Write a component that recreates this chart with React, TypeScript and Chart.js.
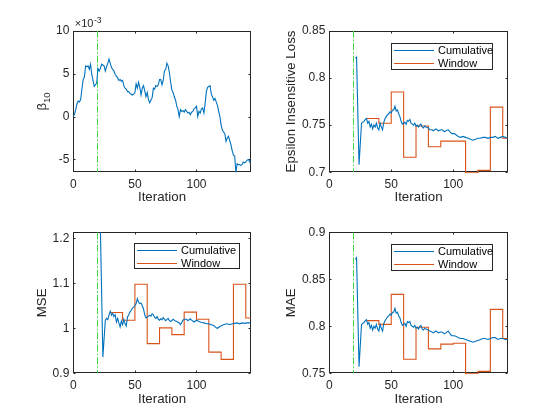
import React, { useEffect, useRef } from 'react';
import { Chart, registerables } from 'chart.js';

Chart.register(...registerables);

const FONT = '"Liberation Sans", Arial, Helvetica, sans-serif';
const INK = '#262626';
const BLUE = '#0072BD';
const ORANGE = '#D95319';
const XLINE_COLOR = '#40d840';

// ---------- shared x axis ----------
const X_MIN = 0;
const X_MAX = 144;
const xTickValues = [0, 50, 100];
const xTickLabels = ['0', '50', '100'];
const warmupEnd = 19.5;

// ---------- beta_10 (units of 1e-3) ----------
const betaIter = [
  0, 1, 2, 3, 4, 5, 6, 7, 8, 9, 10, 11, 12, 13, 14, 15, 16, 17, 18, 19,
  20, 21, 22, 23, 24, 25, 26, 27, 28, 29, 30, 31, 32, 33, 34, 35, 36, 37, 38, 39,
  40, 41, 42, 43, 44, 45, 46, 47, 48, 49, 50, 51, 52, 53, 54, 55, 56, 57, 58, 59,
  60, 61, 62, 63, 64, 65, 66, 67, 68, 69, 70, 71, 72, 73, 74, 75, 76, 77, 78, 79,
  80, 81, 82, 83, 84, 85, 86, 87, 88, 89, 90, 91, 92, 93, 94, 95, 96, 97, 98, 99,
  100, 101, 102, 103, 104, 105, 106, 107, 108, 109, 110, 111, 112, 113, 114, 115, 116, 117, 118, 119,
  120, 121, 122, 123, 124, 125, 126, 127, 128, 129, 130, 131, 132, 133, 134, 135, 136, 137, 138, 139,
  140, 141, 142, 143, 144,
];
const beta10Milli = [
  0.0, 0.3, 0.8, 1.5, 1.8, 1.7, 2.0, 3.2, 4.3, 4.6, 5.9, 5.8, 5.9, 5.5, 6.1, 4.9, 4.2, 3.5, 3.7, 3.9,
  5.6, 5.3, 5.6, 6.1, 6.0, 5.9, 5.3, 5.8, 6.2, 6.7, 6.2, 5.7, 5.5, 5.3, 4.9, 4.7, 4.5, 4.2, 4.3, 4.1,
  4.2, 3.6, 3.3, 3.2, 2.9, 2.9, 2.7, 2.6, 2.5, 2.6, 2.8, 3.8, 3.3, 4.0, 3.4, 2.5, 3.3, 3.6, 3.0, 2.3,
  2.8, 2.0, 1.6, 1.9, 2.2, 3.3, 3.2, 3.6, 3.5, 3.7, 4.3, 4.3, 3.7, 4.2, 5.3, 5.5, 6.2, 5.9, 5.1, 4.0,
  3.1, 2.8, 2.3, 1.9, 1.2, 0.8, 0.0, 0.8, 0.6, 0.7, 0.5, 0.8, 0.6, 0.4, 0.5, 0.2, 0.5, 0.6, 0.9, 1.0,
  1.2, 0.0, 0.6, 0.4, 0.9, 1.0, 0.4, 1.5, 2.9, 3.4, 3.5, 3.6, 2.6, 2.3, 1.9, 2.1, 1.7, 1.3, 0.6, 0.0,
  -1.0, -1.6, -1.8, -2.0, -2.9, -2.5, -2.3, -2.8, -3.3, -4.0, -4.5, -4.6, -6.5, -5.5, -5.6, -5.6, -5.7, -5.6, -5.3, -5.4,
  -5.3, -5.1, -5.0, -5.2, -5.5,
];
const betaTickValues = [-5, 0, 5, 10];
const betaTickLabels = ['-5', '0', '5', '10'];
const BETA_MIN = -6.5;
const BETA_MAX = 10;

// ---------- Epsilon insensitive loss ----------
const eilCumIter = [
  21, 22, 24, 26, 28, 29, 30, 31, 32, 33, 34, 35, 36, 37, 38, 39, 40, 41, 42, 43,
  44, 45, 46, 47, 48, 49, 50, 51, 52, 53, 54, 55, 56, 57, 58, 59, 60, 61, 62, 63,
  64, 65, 66, 67, 68, 69, 70, 71, 72, 73, 74, 75, 76, 77, 78, 80, 81, 83, 84, 86,
  88, 90, 91, 93, 94, 96, 98, 99, 101, 103, 104, 106, 108, 110, 112, 114, 116, 118, 120, 122,
  124, 126, 128, 130, 132, 134, 136, 138, 140, 142, 144,
];
const eilCum = [
  0.821, 0.822, 0.708, 0.752, 0.754, 0.756, 0.757, 0.752, 0.754, 0.748, 0.751, 0.746, 0.750, 0.748, 0.752, 0.747, 0.745, 0.752, 0.748, 0.745,
  0.753, 0.757, 0.759, 0.761, 0.762, 0.764, 0.763, 0.766, 0.766, 0.770, 0.765, 0.766, 0.762, 0.759, 0.754, 0.751, 0.752, 0.753, 0.751, 0.755,
  0.754, 0.756, 0.752, 0.751, 0.750, 0.752, 0.749, 0.750, 0.748, 0.750, 0.751, 0.748, 0.747, 0.749, 0.748, 0.747, 0.745, 0.745, 0.744, 0.746,
  0.744, 0.745, 0.745, 0.743, 0.744, 0.745, 0.742, 0.741, 0.741, 0.739, 0.738, 0.737, 0.738, 0.737, 0.736, 0.735, 0.734, 0.735, 0.736, 0.736,
  0.737, 0.737, 0.736, 0.737, 0.737, 0.738, 0.736, 0.737, 0.738, 0.737, 0.736,
];
const windowIter = [30, 40, 50, 60, 70, 80, 90, 100, 110, 120, 130, 140, 144];
const eilWindow = [0.757, 0.752, 0.785, 0.716, 0.749, 0.727, 0.733, 0.733, 0.6995, 0.702, 0.769, 0.736, 0.736];
const eilTickValues = [0.7, 0.75, 0.8, 0.85];
const eilTickLabels = ['0.7', '0.75', '0.8', '0.85'];

// ---------- MSE ----------
const mseCumIter = [
  21, 22, 24, 26, 27, 28, 29, 30, 31, 32, 33, 34, 35, 36, 37, 38, 39, 40, 41, 42,
  43, 44, 45, 46, 47, 48, 49, 50, 51, 52, 53, 54, 55, 56, 57, 58, 59, 60, 61, 62,
  63, 64, 65, 66, 67, 68, 69, 70, 71, 72, 73, 74, 75, 76, 77, 78, 79, 81, 83, 84,
  86, 87, 89, 90, 92, 93, 95, 96, 98, 100, 102, 104, 106, 108, 110, 112, 114, 116, 117, 119,
  121, 123, 125, 127, 129, 131, 133, 135, 137, 139, 141, 144,
];
const mseCum = [
  1.35, 1.22, 0.936, 1.018, 1.022, 1.019, 1.030, 1.038, 1.029, 1.033, 1.026, 1.030, 1.014, 1.022, 1.012, 1.003, 1.016, 1.008, 1.020, 1.010,
  1.005, 1.025, 1.030, 1.036, 1.040, 1.045, 1.047, 1.050, 1.055, 1.066, 1.058, 1.055, 1.056, 1.050, 1.043, 1.030, 1.023, 1.025, 1.027, 1.029,
  1.027, 1.032, 1.030, 1.024, 1.022, 1.026, 1.020, 1.018, 1.021, 1.019, 1.024, 1.020, 1.017, 1.020, 1.022, 1.017, 1.015, 1.020, 1.016, 1.015,
  1.012, 1.008, 1.018, 1.020, 1.020, 1.017, 1.021, 1.018, 1.014, 1.018, 1.015, 1.013, 1.012, 1.010, 1.010, 1.008, 1.006, 1.001, 1.000, 1.004,
  1.007, 1.009, 1.010, 1.008, 1.010, 1.011, 1.012, 1.010, 1.012, 1.011, 1.012, 1.012,
];
const mseWindow = [1.035, 1.018, 1.098, 0.966, 1.001, 0.986, 1.036, 1.020, 0.947, 0.931, 1.098, 1.023, 1.023];
const mseTickValues = [0.9, 1.0, 1.1, 1.2];
const mseTickLabels = ['0.9', '1', '1.1', '1.2'];

// ---------- MAE ----------
const maeCumIter = [
  21, 22, 24, 26, 28, 29, 30, 31, 32, 33, 34, 35, 36, 37, 38, 39, 40, 41, 42, 43,
  44, 45, 46, 47, 48, 49, 50, 51, 52, 53, 54, 55, 56, 57, 58, 59, 60, 61, 62, 63,
  64, 65, 66, 67, 68, 69, 70, 71, 72, 73, 74, 75, 76, 77, 78, 80, 81, 83, 84, 86,
  88, 90, 91, 93, 94, 96, 98, 99, 101, 103, 104, 106, 108, 110, 112, 114, 116, 118, 120, 122,
  124, 126, 128, 130, 132, 134, 136, 138, 140, 142, 144,
];
const maeCum = [
  0.871, 0.873, 0.757, 0.802, 0.804, 0.806, 0.807, 0.802, 0.804, 0.798, 0.801, 0.796, 0.800, 0.798, 0.802, 0.797, 0.795, 0.802, 0.798, 0.795,
  0.803, 0.806, 0.808, 0.810, 0.811, 0.813, 0.812, 0.815, 0.815, 0.819, 0.814, 0.815, 0.811, 0.809, 0.804, 0.801, 0.802, 0.803, 0.800, 0.805,
  0.804, 0.805, 0.801, 0.800, 0.799, 0.801, 0.798, 0.799, 0.797, 0.800, 0.801, 0.797, 0.796, 0.798, 0.797, 0.796, 0.795, 0.794, 0.793, 0.795,
  0.793, 0.794, 0.794, 0.792, 0.793, 0.795, 0.791, 0.790, 0.790, 0.789, 0.788, 0.787, 0.787, 0.786, 0.785, 0.784, 0.783, 0.784, 0.785, 0.786,
  0.787, 0.787, 0.786, 0.787, 0.788, 0.788, 0.786, 0.787, 0.787, 0.786, 0.786,
];
const maeWindow = [0.806, 0.802, 0.834, 0.765, 0.799, 0.776, 0.781, 0.782, 0.7496, 0.752, 0.818, 0.787, 0.787];
const maeTickValues = [0.75, 0.8, 0.85, 0.9];
const maeTickLabels = ['0.75', '0.8', '0.85', '0.9'];

const seriesNames = ['Cumulative', 'Window'];

// ---------- panel description ----------
type Area = { l: number; t: number; r: number; b: number };
type LegendBox = { rightInset: number; top: number; width: number; height: number };
type Panel = {
  area: Area;
  yMin: number;
  yMax: number;
  yTicks: number[];
  yTickLabels: string[];
  yTitle?: string;
  yTitlePad?: number;
  xTitlePad: number;
  datasets: any[];
  legend?: LegendBox;
  exponent?: boolean;
  betaLabel?: boolean;
};

const CW = 280;
const CH = 210;

function pts(xs: number[], ys: number[]) {
  return xs.map((x, i) => ({ x, y: ys[i] }));
}

function cumulativeDs(xs: number[], ys: number[]) {
  return {
    label: seriesNames[0],
    data: pts(xs, ys),
    borderColor: BLUE,
    borderWidth: 1.1,
    pointRadius: 0,
    tension: 0,
    clip: 0,
  };
}
function windowDs(xs: number[], ys: number[]) {
  return {
    label: seriesNames[1],
    data: pts(xs, ys),
    borderColor: ORANGE,
    borderWidth: 1.1,
    pointRadius: 0,
    stepped: true,
    clip: 1,
  };
}

function panelPlugin(p: Panel) {
  return {
    id: 'matlabAxes',
    beforeDatasetsDraw(chart: any) {
      const { ctx, chartArea: a, scales } = chart;
      const L = Math.round(a.left) + 0.5;
      const R = Math.round(a.right) - 0.5;
      const T = Math.round(a.top) + 0.5;
      const B = Math.round(a.bottom) - 0.5;
      ctx.save();
      // axes box (drawn beneath the data, like MATLAB's default layer)
      ctx.strokeStyle = INK;
      ctx.lineWidth = 1;
      ctx.setLineDash([]);
      ctx.strokeRect(L, T, R - L, B - T);
      const tl = 2;
      ctx.beginPath();
      for (const v of xTickValues) {
        const x = Math.round(scales.x.getPixelForValue(v)) + 0.5;
        ctx.moveTo(x, B);
        ctx.lineTo(x, B - tl);
        ctx.moveTo(x, T);
        ctx.lineTo(x, T + tl);
      }
      for (const v of p.yTicks) {
        const y = Math.round(scales.y.getPixelForValue(v)) + 0.5;
        ctx.moveTo(L, y);
        ctx.lineTo(L + tl, y);
        ctx.moveTo(R, y);
        ctx.lineTo(R - tl, y);
      }
      ctx.stroke();

      // warm-up marker line
      const xw = Math.round(scales.x.getPixelForValue(warmupEnd)) + 0.5;
      ctx.beginPath();
      ctx.rect(a.left, a.top, a.right - a.left, a.bottom - a.top);
      ctx.clip();
      ctx.strokeStyle = XLINE_COLOR;
      ctx.lineWidth = 1;
      ctx.setLineDash([7, 2, 1.5, 2]);
      ctx.beginPath();
      ctx.moveTo(xw, a.top);
      ctx.lineTo(xw, a.bottom);
      ctx.stroke();
      ctx.restore();
    },
    afterDraw(chart: any) {
      const { ctx, chartArea: a } = chart;
      ctx.save();
      ctx.setLineDash([]);
      ctx.lineWidth = 1;

      if (p.legend) {
        const lg = p.legend;
        const bx = Math.round(a.right - lg.rightInset - lg.width) + 0.5;
        const by = Math.round(a.top + lg.top) + 0.5;
        ctx.fillStyle = '#ffffff';
        ctx.fillRect(bx, by, lg.width, lg.height);
        ctx.strokeStyle = INK;
        ctx.strokeRect(bx, by, lg.width, lg.height);
        const rows = [by + 6.8, by + 19.2];
        chart.data.datasets.forEach((ds: any, i: number) => {
          const yy = Math.round(rows[i]) + 0.5;
          ctx.strokeStyle = ds.borderColor;
          ctx.lineWidth = 1.1;
          ctx.beginPath();
          ctx.moveTo(bx + 2.5, yy);
          ctx.lineTo(bx + 42.5, yy);
          ctx.stroke();
          ctx.fillStyle = '#000000';
          ctx.font = `11px ${FONT}`;
          ctx.textBaseline = 'middle';
          ctx.textAlign = 'left';
          ctx.fillText(ds.label, bx + 46.5, yy + 0.5);
        });
      }

      if (p.exponent) {
        ctx.fillStyle = INK;
        ctx.textAlign = 'left';
        ctx.textBaseline = 'alphabetic';
        ctx.font = `11px ${FONT}`;
        const x0 = a.left + 1.5;
        ctx.fillText('\u00d710', x0, a.top - 4);
        const w = ctx.measureText('\u00d710').width;
        ctx.font = `8.5px ${FONT}`;
        ctx.fillText('-3', x0 + w + 0.5, a.top - 7.5);
      }

      if (p.betaLabel) {
        const cx = 40;
        const cy = (a.top + a.bottom) / 2;
        ctx.save();
        ctx.translate(cx, cy);
        ctx.rotate(-Math.PI / 2);
        ctx.fillStyle = INK;
        ctx.textAlign = 'left';
        ctx.textBaseline = 'alphabetic';
        ctx.font = `13.3px ${FONT}`;
        const wb = ctx.measureText('\u03b2').width;
        ctx.font = `9.5px ${FONT}`;
        const ws = ctx.measureText('10').width;
        const start = -(wb + ws) / 2;
        ctx.font = `13.3px ${FONT}`;
        ctx.fillText('\u03b2', start, 5.5);
        ctx.font = `9.5px ${FONT}`;
        ctx.fillText('10', start + wb, 9.5);
        ctx.restore();
      }
      ctx.restore();
    },
  };
}

function makeConfig(p: Panel): any {
  return {
    type: 'line',
    data: { datasets: p.datasets },
    options: {
      animation: false,
      responsive: false,
      devicePixelRatio: 1,
      events: [],
      layout: {
        padding: { top: p.area.t, right: CW - p.area.r, left: 0, bottom: 0 },
      },
      plugins: {
        legend: { display: false },
        tooltip: { enabled: false },
        title: { display: false },
      },
      scales: {
        x: {
          type: 'linear',
          min: X_MIN,
          max: X_MAX,
          grid: { display: false, drawTicks: false },
          border: { display: false },
          afterBuildTicks: (s: any) => {
            s.ticks = xTickValues.map((v) => ({ value: v }));
          },
          afterFit: (s: any) => {
            s.height = CH - p.area.b;
          },
          ticks: {
            autoSkip: false,
            maxRotation: 0,
            padding: 5,
            color: INK,
            font: { family: FONT, size: 12 },
            callback: (_v: any, i: number) => xTickLabels[i],
          },
          title: {
            display: true,
            text: 'Iteration',
            color: INK,
            font: { family: FONT, size: 13.3 },
            padding: p.xTitlePad,
          },
        },
        y: {
          type: 'linear',
          min: p.yMin,
          max: p.yMax,
          grid: { display: false, drawTicks: false },
          border: { display: false },
          afterBuildTicks: (s: any) => {
            s.ticks = p.yTicks.map((v) => ({ value: v }));
          },
          afterFit: (s: any) => {
            s.width = p.area.l;
          },
          ticks: {
            autoSkip: false,
            padding: 4,
            color: INK,
            font: { family: FONT, size: 12 },
            callback: (_v: any, i: number) => p.yTickLabels[i],
          },
          title: {
            display: !!p.yTitle,
            text: p.yTitle || '',
            color: INK,
            font: { family: FONT, size: 13.3 },
            padding: p.yTitlePad ?? 0,
          },
        },
      },
    },
    plugins: [panelPlugin(p)],
  };
}

const panels: { left: number; top: number; panel: Panel }[] = [
  {
    left: 0,
    top: 0,
    panel: {
      area: { l: 73.3, t: 30.7, r: 250.7, b: 172.3 },
      yMin: BETA_MIN,
      yMax: BETA_MAX,
      yTicks: betaTickValues,
      yTickLabels: betaTickLabels,
      xTitlePad: 4.8,
      datasets: [cumulativeDs(betaIter, beta10Milli)],
      exponent: true,
      betaLabel: true,
    },
  },
  {
    left: 280,
    top: 0,
    panel: {
      area: { l: 49.3, t: 30.7, r: 227.7, b: 172.3 },
      yMin: 0.7,
      yMax: 0.85,
      yTicks: eilTickValues,
      yTickLabels: eilTickLabels,
      yTitle: 'Epsilon Insensitive Loss',
      yTitlePad: 3.5,
      xTitlePad: 4.8,
      datasets: [cumulativeDs(eilCumIter, eilCum), windowDs(windowIter, eilWindow)],
      legend: { rightInset: 15.7, top: 12, width: 101, height: 26 },
    },
  },
  {
    left: 0,
    top: 210,
    panel: {
      area: { l: 73.3, t: 22.3, r: 250.7, b: 163.3 },
      yMin: 0.9,
      yMax: 1.2133,
      yTicks: mseTickValues,
      yTickLabels: mseTickLabels,
      yTitle: 'MSE',
      yTitlePad: 34.3,
      xTitlePad: 12.5,
      datasets: [cumulativeDs(mseCumIter, mseCum), windowDs(windowIter, mseWindow)],
      legend: { rightInset: 11.5, top: 11, width: 105, height: 25 },
    },
  },
  {
    left: 280,
    top: 210,
    panel: {
      area: { l: 49.3, t: 22.3, r: 227.7, b: 163.3 },
      yMin: 0.75,
      yMax: 0.9,
      yTicks: maeTickValues,
      yTickLabels: maeTickLabels,
      yTitle: 'MAE',
      yTitlePad: 3.3,
      xTitlePad: 12.5,
      datasets: [cumulativeDs(maeCumIter, maeCum), windowDs(windowIter, maeWindow)],
      legend: { rightInset: 15.7, top: 11.7, width: 101, height: 26 },
    },
  },
];

function PanelChart({ panel, left, top }: { panel: Panel; left: number; top: number }) {
  const ref = useRef<HTMLCanvasElement | null>(null);
  useEffect(() => {
    if (!ref.current) return;
    const chart = new Chart(ref.current, makeConfig(panel));
    return () => chart.destroy();
  }, [panel]);
  return (
    <canvas
      ref={ref}
      width={CW}
      height={CH}
      style={{ position: 'absolute', left, top, width: CW, height: CH }}
    />
  );
}

export default function App() {
  return (
    <div
      style={{
        position: 'fixed',
        left: 0,
        top: 0,
        width: 560,
        height: 420,
        background: '#ffffff',
        overflow: 'hidden',
      }}
    >
      {panels.map((p, i) => (
        <PanelChart key={i} panel={p.panel} left={p.left} top={p.top} />
      ))}
    </div>
  );
}
